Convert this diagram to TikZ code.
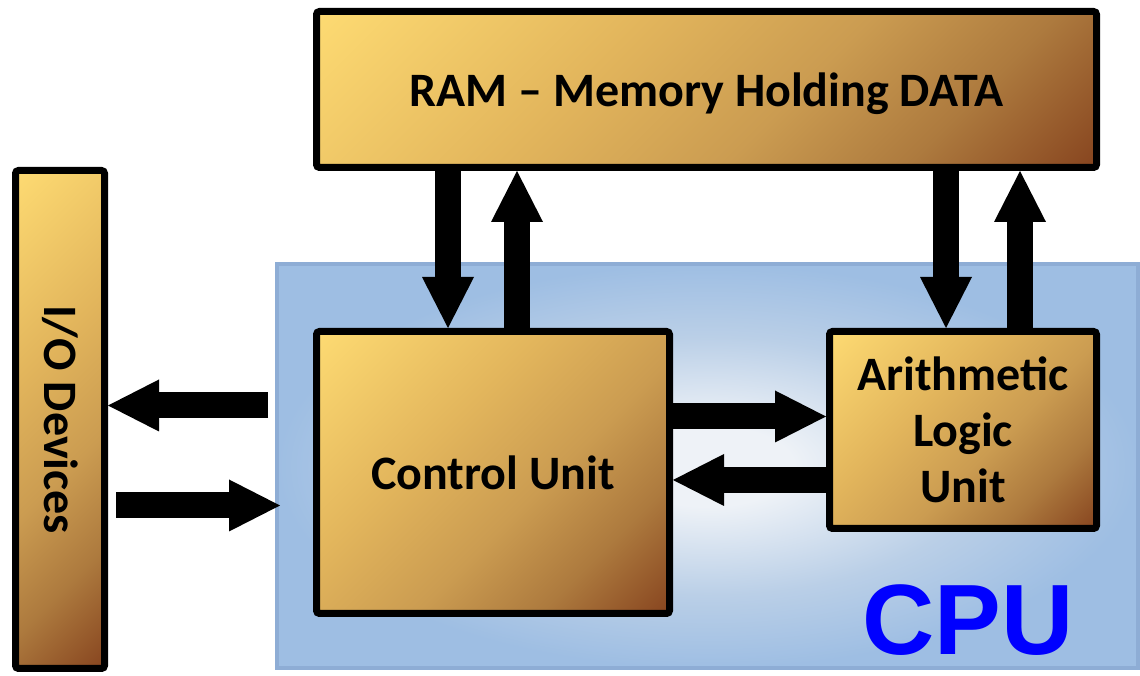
\documentclass[tikz,border=0pt]{standalone}
\usepackage{fontspec}
\setmainfont{Carlito}
\newfontfamily\cpufont{Liberation Sans}
\usetikzlibrary{positioning,arrows.meta}

\definecolor{goldA}{HTML}{FDDA72}
\definecolor{goldB}{HTML}{E2B55C}
\definecolor{goldC}{HTML}{CB9C51}
\definecolor{goldD}{HTML}{AD7A3E}
\definecolor{goldE}{HTML}{884620}
\definecolor{cpuIn}{HTML}{EEF2F7}
\definecolor{cpuMid}{HTML}{BACFE7}
\definecolor{cpuOut}{HTML}{9EBEE3}
\definecolor{cpuEdge}{HTML}{8EADD5}

\pgfdeclarehorizontalshading{goldfill}{100bp}{color(0bp)=(goldA); color(15bp)=(goldA); color(40bp)=(goldB); color(57bp)=(goldC); color(71bp)=(goldD); color(85bp)=(goldE); color(100bp)=(goldE)}
\pgfdeclareradialshading{cpufill}{\pgfpoint{0bp}{0bp}}{color(0bp)=(cpuIn); color(5bp)=(cpuIn); color(16bp)=(cpuMid); color(25bp)=(cpuOut); color(50bp)=(cpuOut)}

\begin{document}
\begin{tikzpicture}[
    x=1pt, y=1pt,
    every node/.style={font=\bfseries},
    box/.style={draw, line width=7pt, rounded corners=3pt, shading=goldfill, shading angle=-45, align=center, inner sep=0pt, font=\bfseries\fontsize{48}{56}\selectfont},
    cpuarea/.style={draw=cpuEdge, line width=4pt, shading=cpufill},
    cpulabel/.style={font=\cpufont\bfseries\fontsize{100}{100}\selectfont, text=blue, inner sep=0pt},
    bigarrow/.style={line width=26pt, -{Triangle[length=51pt, width=52pt, line width=0pt]}}
]
\useasboundingbox (0,0) rectangle (1140,676);

% CPU 区域
\node[cpuarea, minimum width=861pt, minimum height=404pt] (cpu) at (707.5,210) {};
\node[cpulabel, above left=15pt and 66pt of cpu.south east, anchor=base east] (cpulbl) {CPU};

% 方框
\node[box, minimum width=780pt, minimum height=156pt, text depth=0pt] (ram) at (706.5,586.5) {RAM – Memory Holding DATA};
\node[box, minimum width=353pt, minimum height=282pt, below=157pt of ram.south west, anchor=north west] (cu) {Control Unit};
\node[box, minimum width=267pt, minimum height=197pt, right=153pt of cu.north east, anchor=north west] (alu) {Arithmetic\\Logic\\Unit};
\node[box, minimum width=89pt, minimum height=498pt] (io) at (60,256.5) {\rotatebox{-90}{I/O Devices}};

% 箭头位置
\coordinate (cudn) at (448,0);
\coordinate (cuup) at (517,0);
\coordinate (aludn) at (946,0);
\coordinate (aluup) at (1020,0);
\coordinate (toalu) at (0,259.5);
\coordinate (tocu) at (0,196);
\coordinate (ioout) at (268,270.5);
\coordinate (ioin) at (116,170.5);

% 连接箭头
\draw[bigarrow] (cudn |- ram.south) -- (cudn |- cu.north);
\draw[bigarrow] (cuup |- cu.north) -- (cuup |- ram.south);
\draw[bigarrow] (aludn |- ram.south) -- (aludn |- alu.north);
\draw[bigarrow] (aluup |- alu.north) -- (aluup |- ram.south);
\draw[bigarrow] (cu.east |- toalu) -- (alu.west |- toalu);
\draw[bigarrow] (alu.west |- tocu) -- (cu.east |- tocu);
\draw[bigarrow] (ioout) -- (io.east |- ioout);
\draw[bigarrow] (ioin) -- ([xshift=5pt]cpu.west |- ioin);

\end{tikzpicture}
\end{document}
